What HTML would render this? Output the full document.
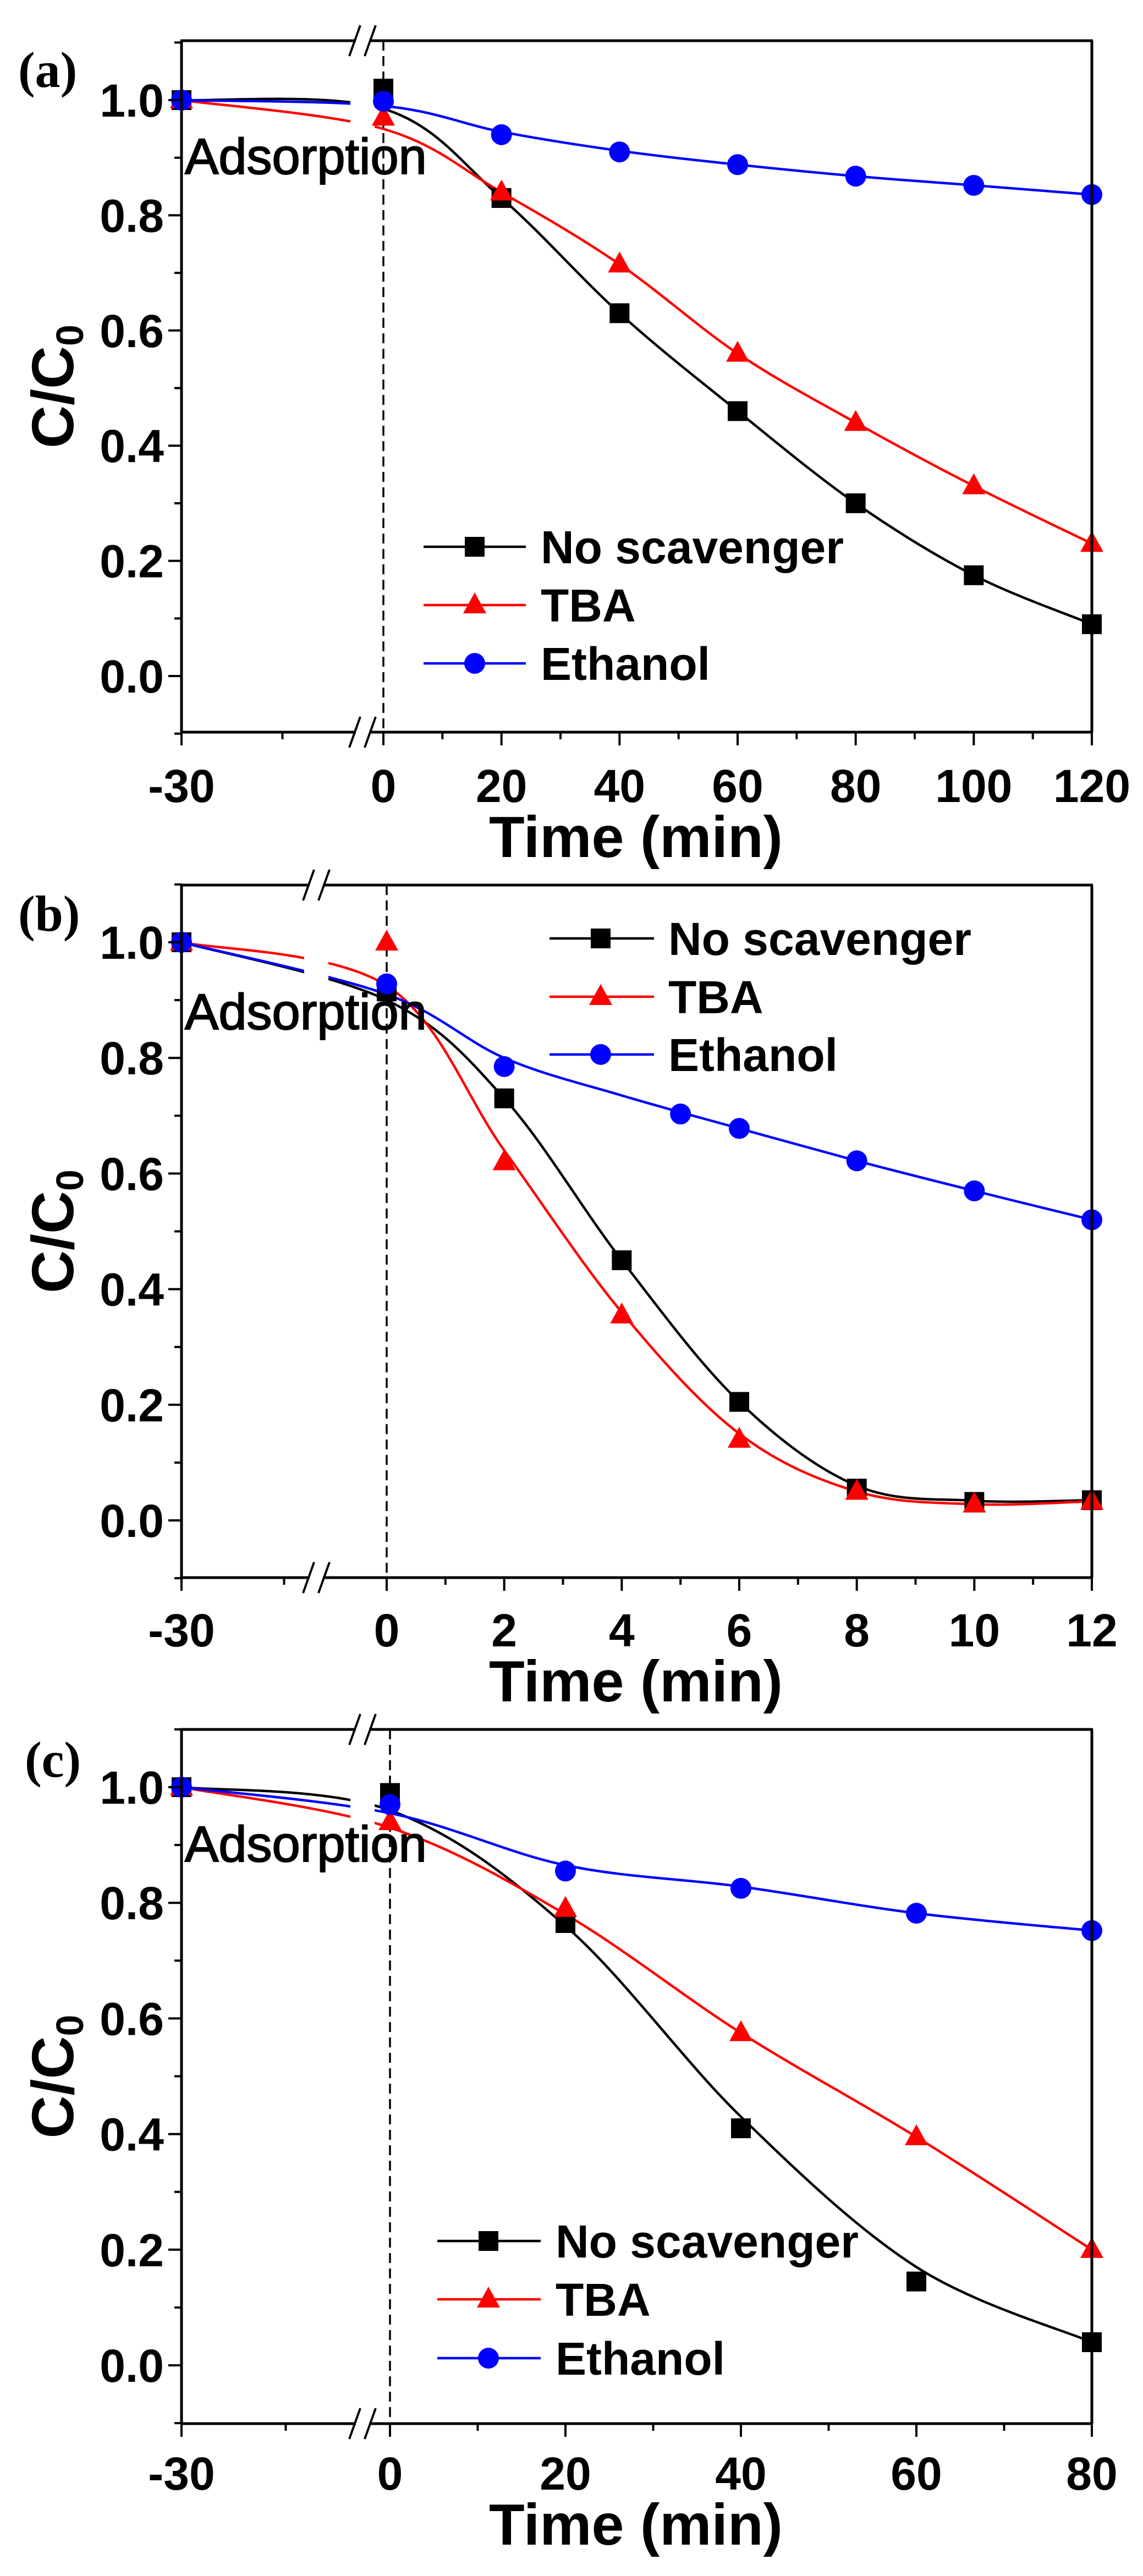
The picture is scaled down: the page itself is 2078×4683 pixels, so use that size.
<!DOCTYPE html>
<html><head><meta charset="utf-8"><style>
html,body{margin:0;padding:0;background:#fff;}
svg{display:block;}
</style></head><body>
<svg id="s" xmlns="http://www.w3.org/2000/svg" width="2078" height="4683" viewBox="0 0 2078 4683"></svg>
<script>
const S=document.getElementById('s');let out='';
function spline(pts){let d='M'+pts[0][0]+','+pts[0][1];for(let i=0;i<pts.length-1;i++){const p0=pts[i-1]||pts[i],p1=pts[i],p2=pts[i+1],p3=pts[i+2]||pts[i+1];const c1=[p1[0]+(p2[0]-p0[0])/6,p1[1]+(p2[1]-p0[1])/6],c2=[p2[0]-(p3[0]-p1[0])/6,p2[1]-(p3[1]-p1[1])/6];d+=` C${c1[0]},${c1[1]} ${c2[0]},${c2[1]} ${p2[0]},${p2[1]}`;}return d;}
function marker(t,x,y,c){if(t=='s')return `<rect x="${x-18}" y="${y-18}" width="36" height="36" fill="${c}"/>`;if(t=='t')return `<polygon points="${x},${y-23} ${x-21},${y+15} ${x+21},${y+15}" fill="${c}"/>`;return `<circle cx="${x}" cy="${y}" r="19" fill="${c}"/>`;}
function panel(P){const L=330,R=1985;const X=t=>t<=0?L+(t+30)/30*(P.x0-L):P.x0+t/P.tmax*(R-P.x0);const Y=v=>P.y0+(P.y1-P.y0)*v;
let o='';
o+=`<line x1="${P.x0}" y1="${P.top}" x2="${P.x0}" y2="${P.bot}" stroke="#000" stroke-width="3.5" stroke-dasharray="18,10"/>`;
for(const s of P.series){const cp=s.curve.map(p=>[X(p[0]),Y(p[1])]);o+=`<path d="${spline(cp)}" fill="none" stroke="${s.c}" stroke-width="4.5"/>`;}
o+=`<rect x="${P.brk-22}" y="${P.top+6}" width="44" height="${P.bot-P.top-12}" fill="#fff"/>`;
for(const s of P.series){for(const p of s.pts)o+=marker(s.m,X(p[0]),Y(p[1]),s.c);}
o+=`<g stroke="#000" stroke-width="5" fill="none"><line x1="${L}" y1="${P.top}" x2="${L}" y2="${P.bot}"/><line x1="${R}" y1="${P.top}" x2="${R}" y2="${P.bot}"/>`;
o+=`<line x1="${L-2}" y1="${P.top}" x2="${P.brk-12}" y2="${P.top}"/><line x1="${P.brk+12}" y1="${P.top}" x2="${R+2}" y2="${P.top}"/>`;
o+=`<line x1="${L-2}" y1="${P.bot}" x2="${P.brk-12}" y2="${P.bot}"/><line x1="${P.brk+12}" y1="${P.bot}" x2="${R+2}" y2="${P.bot}"/>`;
for(const yy of [P.top,P.bot]){o+=`<line x1="${P.brk-24}" y1="${yy+28}" x2="${P.brk-4}" y2="${yy-28}" stroke-width="4"/><line x1="${P.brk+4}" y1="${yy+28}" x2="${P.brk+24}" y2="${yy-28}" stroke-width="4"/>`;}
for(let k=-1;k<=11;k++){const y=Y(k/10);const maj=k%2==0&&k>=0&&k<=10;o+=`<line x1="${L-(maj?24:13)}" y1="${y}" x2="${L}" y2="${y}" stroke-width="4"/>`;}
o+=`<line x1="${L}" y1="${P.bot}" x2="${L}" y2="${P.bot+24}" stroke-width="4"/><line x1="${X(-15)}" y1="${P.bot}" x2="${X(-15)}" y2="${P.bot+13}" stroke-width="4"/>`;
for(let t=0;t<=P.tmax;t+=P.step/2){const maj=Math.abs(t/P.step-Math.round(t/P.step))<1e-6;o+=`<line x1="${X(t)}" y1="${P.bot}" x2="${X(t)}" y2="${P.bot+(maj?24:13)}" stroke-width="4"/>`;}
o+='</g>';
o+=`<g font-family="Liberation Sans, Arial, sans-serif" font-weight="bold" font-size="84" fill="#000">`;
for(let k=0;k<=10;k+=2)o+=`<text x="298" y="${Y(k/10)+30}" text-anchor="end">${(k/10).toFixed(1)}</text>`;
o+=`<text x="${L}" y="${P.ly}" text-anchor="middle">-30</text>`;
for(let t=0;t<=P.tmax;t+=P.step)o+=`<text x="${X(t)}" y="${P.ly}" text-anchor="middle">${t}</text>`;
o+=`<text x="1156" y="${P.ty}" text-anchor="middle" font-size="106">Time (min)</text>`;
const cy=(P.top+P.bot)/2;
o+=`<text transform="translate(133,${cy}) rotate(-90)" text-anchor="middle" font-size="108">C/C<tspan font-size="70" dy="18">0</tspan></text>`;
const lg=P.lg;const names=['No scavenger','TBA','Ethanol'];
P.series.forEach((s,i)=>{const y=lg.rows[i];o+=`<line x1="${lg.x1}" y1="${y}" x2="${lg.x2}" y2="${y}" stroke="${s.c}" stroke-width="4.5"/>`+marker(s.m,lg.mx,y,s.c)+`<text x="${lg.tx}" y="${y+30}">${names[i]}</text>`;});
o+=`<text x="336" y="${P.ay}" font-weight="normal" font-size="92" stroke="#000" stroke-width="2">Adsorption</text>`;
o+='</g>';
o+=`<text x="${P.tagx}" y="${P.tagy}" font-family="Liberation Serif, serif" font-weight="bold" font-size="92">${P.tag}</text>`;
return o;}
out+=panel({top:74,bot:1331,y1:182,y0:1229,x0:697,tmax:120,step:20,brk:659,ly:1458,ty:1558,ay:316,tag:'(a)',tagx:33,tagy:158,
lg:{x1:770,x2:956,mx:863,tx:983,rows:[994,1100,1206]},
series:[{c:'#000',m:'s',pts:[[-30,1],[0,1.02],[20,.83],[40,.63],[60,.46],[80,.3],[100,.175],[120,.09]],curve:[[-30,1],[0,.985],[20,.83],[40,.63],[60,.46],[80,.3],[100,.175],[120,.09]]},
{c:'#f00',m:'t',pts:[[-30,1],[0,.97],[20,.84],[40,.715],[60,.56],[80,.44],[100,.33],[120,.23]],curve:[[-30,1],[0,.95],[20,.84],[40,.715],[60,.56],[80,.44],[100,.33],[120,.23]]},
{c:'#00f',m:'c',pts:[[-30,1],[0,.998],[20,.94],[40,.91],[60,.888],[80,.868],[100,.852],[120,.836]],curve:[[-30,1],[0,.99],[20,.945],[40,.912],[60,.888],[80,.868],[100,.852],[120,.836]]}]});
out+=panel({top:1609,bot:2868,y1:1713,y0:2764,x0:703,tmax:12,step:2,brk:575,ly:2993,ty:3093,ay:1871,tag:'(b)',tagx:33,tagy:1692,
lg:{x1:999,x2:1189,mx:1092,tx:1215,rows:[1706,1812,1917]},
series:[{c:'#000',m:'s',pts:[[-30,1],[0,.915],[2,.73],[4,.45],[6,.205],[8,.055],[10,.032],[12,.035]],curve:[[-30,1],[0,.9],[2,.73],[4,.45],[6,.205],[8,.06],[10,.034],[12,.035]]},
{c:'#f00',m:'t',pts:[[-30,1],[0,1],[2,.62],[4,.355],[6,.14],[8,.05],[10,.028],[12,.033]],curve:[[-30,1],[0,.925],[2,.64],[4,.36],[6,.15],[8,.05],[10,.028],[12,.033]]},
{c:'#00f',m:'c',pts:[[-30,1],[0,.928],[2,.785],[5,.703],[6,.678],[8,.622],[10,.57],[12,.52]],curve:[[-30,1],[0,.91],[2,.8],[4,.735],[6,.678],[8,.622],[10,.57],[12,.52]]}]});
out+=panel({top:3144,bot:4406,y1:3249,y0:4300,x0:709,tmax:80,step:20,brk:659,ly:4526,ty:4626,ay:3384,tag:'(c)',tagx:45,tagy:3230,
lg:{x1:795,x2:983,mx:888,tx:1010,rows:[4074,4180,4287]},
series:[{c:'#000',m:'s',pts:[[-30,1],[0,.99],[20,.765],[40,.41],[60,.145],[80,.04]],curve:[[-30,1],[0,.96],[20,.76],[40,.43],[60,.17],[80,.04]]},
{c:'#f00',m:'t',pts:[[-30,1],[0,.94],[20,.79],[40,.575],[60,.395],[80,.2]],curve:[[-30,1],[0,.93],[20,.78],[40,.575],[60,.395],[80,.2]]},
{c:'#00f',m:'c',pts:[[-30,1],[0,.97],[20,.855],[40,.825],[60,.782],[80,.752]],curve:[[-30,1],[0,.955],[20,.865],[40,.828],[60,.782],[80,.752]]}]});
S.innerHTML=out;
</script>
</body></html>
